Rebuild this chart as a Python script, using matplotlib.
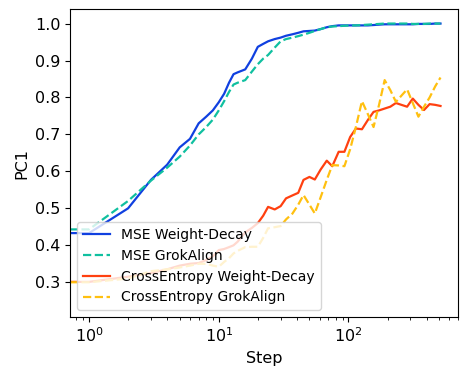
import matplotlib.pyplot as plt

# training steps (0 is clipped on the log axis, so the lines run to the left edge)
steps = [0, 1, 2, 3, 4, 5, 6, 7, 8, 9, 10, 11, 12, 13, 14, 16, 18, 20, 22, 24,
         27, 30, 33, 37, 41, 45, 50, 55, 61, 68, 75, 84, 93, 103, 114, 127, 141,
         156, 172, 190, 210, 232, 256, 283, 313, 346, 382, 422, 466, 512]

mse_wd = [0.433, 0.433, 0.500, 0.577, 0.618, 0.665, 0.688, 0.730, 0.748, 0.765,
          0.787, 0.810, 0.840, 0.863, 0.868, 0.876, 0.905, 0.937, 0.945, 0.952,
          0.958, 0.962, 0.967, 0.971, 0.975, 0.979, 0.980, 0.981, 0.985, 0.990,
          0.993, 0.995, 0.995, 0.995, 0.995, 0.995, 0.995, 0.996, 0.997, 0.998,
          0.998, 0.998, 0.998, 0.998, 0.998, 0.999, 0.999, 0.999, 1.000, 1.000]

mse_ga = [0.443, 0.443, 0.520, 0.575, 0.610, 0.640, 0.670, 0.700, 0.720, 0.740,
          0.765, 0.790, 0.815, 0.835, 0.840, 0.847, 0.870, 0.890, 0.905, 0.915,
          0.935, 0.952, 0.958, 0.962, 0.966, 0.970, 0.975, 0.980, 0.985, 0.990,
          0.992, 0.993, 0.994, 0.995, 0.995, 0.996, 0.997, 0.998, 0.999, 1.000,
          1.000, 1.000, 1.000, 1.000, 0.999, 0.999, 0.999, 1.000, 1.000, 1.000]

ce_wd = [0.301, 0.301, 0.315, 0.325, 0.335, 0.345, 0.350, 0.352, 0.360, 0.370,
         0.387, 0.390, 0.395, 0.400, 0.410, 0.435, 0.447, 0.460, 0.480, 0.504,
         0.497, 0.506, 0.527, 0.535, 0.542, 0.577, 0.585, 0.578, 0.605, 0.629,
         0.614, 0.653, 0.653, 0.693, 0.716, 0.714, 0.739, 0.761, 0.765, 0.770,
         0.775, 0.785, 0.780, 0.775, 0.797, 0.780, 0.766, 0.782, 0.780, 0.777]

ce_ga = [0.300, 0.300, 0.310, 0.330, 0.335, 0.340, 0.345, 0.350, 0.350, 0.345,
         0.342, 0.355, 0.365, 0.378, 0.385, 0.395, 0.396, 0.396, 0.420, 0.446,
         0.449, 0.452, 0.470, 0.486, 0.510, 0.536, 0.510, 0.486, 0.530, 0.577,
         0.617, 0.616, 0.614, 0.660, 0.720, 0.790, 0.755, 0.720, 0.780, 0.847,
         0.820, 0.788, 0.805, 0.822, 0.785, 0.748, 0.775, 0.800, 0.830, 0.854]

fig = plt.figure(figsize=(4.67, 3.81), dpi=100)
ax = fig.add_axes([0.150, 0.168, 0.831, 0.808])

ax.plot(steps, mse_wd, color='#1040e0', lw=1.6, label='MSE Weight-Decay')
ax.plot(steps, mse_ga, color='#10c0a0', lw=1.6, ls='--', label='MSE GrokAlign')
ax.plot(steps, ce_wd, color='#ff4010', lw=1.6, label='CrossEntropy Weight-Decay')
ax.plot(steps, ce_ga, color='#ffc010', lw=1.6, ls='--', label='CrossEntropy GrokAlign')

ax.set_xscale('log')
ax.set_xlim(0.714, 700)
ax.set_ylim(0.206, 1.039)
ax.set_yticks([0.3, 0.4, 0.5, 0.6, 0.7, 0.8, 0.9, 1.0])
ax.tick_params(labelsize=11.5)
ax.set_xlabel('Step', fontsize=11.5)
ax.set_ylabel('PC1', fontsize=11.5)
ax.legend(loc='lower left', fontsize=10)

fig.savefig('out.png', dpi=100)
